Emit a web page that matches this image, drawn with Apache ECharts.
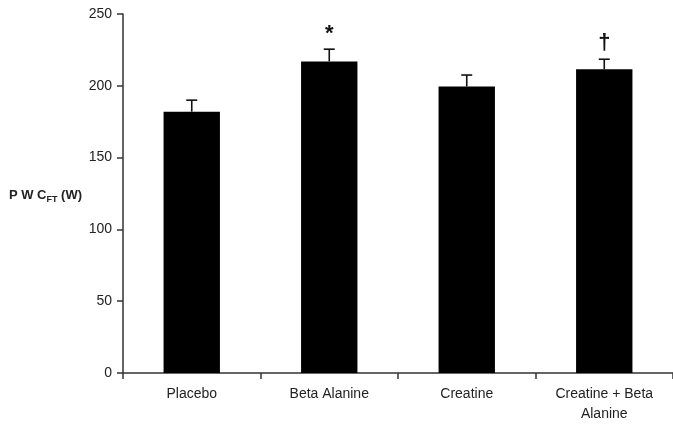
<!DOCTYPE html>
<html>
<head>
<meta charset="utf-8">
<script src="https://cdn.jsdelivr.net/npm/echarts@6/dist/echarts.min.js"></script>
<style>html,body{margin:0;padding:0;background:#fff}#c{width:673px;height:424px}</style>
</head>
<body>
<div id="c"></div>
<script>
var categories = ['Placebo', 'Beta Alanine', 'Creatine', 'Creatine + Beta\nAlanine'];
var means = [182, 217, 199.5, 211.5];
var errors = [8, 8.5, 8, 7];
var marks = ['', '*', '', '\u2020'];
var yTicks = [0, 50, 100, 150, 200, 250];

var chart = echarts.init(document.getElementById('c'), null, {renderer: 'canvas'});
var font = 'Liberation Sans, Arial, sans-serif';
var errData = categories.map(function (c, i) { return [i, means[i], errors[i], marks[i]]; });

chart.setOption({
  animation: false,
  backgroundColor: '#fff',
  grid: {left: 123, right: -7, top: 14, bottom: 51},
  xAxis: {
    type: 'category',
    data: categories,
    boundaryGap: true,
    axisLine: {lineStyle: {color: '#333', width: 1.5}},
    axisTick: {show: true, alignWithLabel: false, length: 6, lineStyle: {color: '#333', width: 1.5}},
    axisLabel: {color: '#222', fontFamily: font, fontSize: 14, margin: 11, lineHeight: 20, interval: 0}
  },
  yAxis: {
    type: 'value',
    min: yTicks[0],
    max: yTicks[yTicks.length - 1],
    interval: 50,
    name: '{a|P W C}{b|FT}{a| (W)}',
    nameLocation: 'middle',
    nameRotate: 0,
    nameGap: 41,
    nameTextStyle: {
      align: 'right',
      rich: {
        a: {fontFamily: font, fontSize: 13, fontWeight: 'bold', color: '#222', lineHeight: 16, verticalAlign: 'bottom'},
        b: {fontFamily: font, fontSize: 9, fontWeight: 'bold', color: '#222', lineHeight: 16, verticalAlign: 'bottom', padding: [0, 0, -3, 0]}
      }
    },
    splitLine: {show: false},
    axisLine: {show: true, lineStyle: {color: '#333', width: 1.5}},
    axisTick: {show: true, length: 6, lineStyle: {color: '#333', width: 1.5}},
    axisLabel: {color: '#222', fontFamily: font, fontSize: 14, margin: 11}
  },
  series: [
    {
      type: 'bar',
      data: means,
      barWidth: '41%',
      itemStyle: {color: '#000'},
      z: 2
    },
    {
      type: 'custom',
      data: errData,
      z: 3,
      renderItem: function (params, api) {
        var i = api.value(0), m = api.value(1), e = api.value(2);
        var top = api.coord([i, m]);
        var hi = api.coord([i, m + e]);
        var capW = 11;
        var children = [
          {type: 'line', shape: {x1: top[0], y1: top[1], x2: hi[0], y2: hi[1]}, style: {stroke: '#111', lineWidth: 1.6}},
          {type: 'line', shape: {x1: hi[0] - capW / 2, y1: hi[1], x2: hi[0] + capW / 2, y2: hi[1]}, style: {stroke: '#111', lineWidth: 1.6}}
        ];
        var mk = marks[params.dataIndex];
        if (mk) {
          var isStar = mk === '*';
          children.push({
            type: 'text',
            style: {
              text: mk,
              x: hi[0],
              y: hi[1] - (isStar ? 4 : 5),
              align: 'center',
              verticalAlign: 'bottom',
              fontFamily: font,
              fontSize: isStar ? 22 : 22,
              fontWeight: 'bold',
              fill: '#111'
            }
          });
        }
        return {type: 'group', children: children};
      }
    }
  ]
});
</script>
</body>
</html>
